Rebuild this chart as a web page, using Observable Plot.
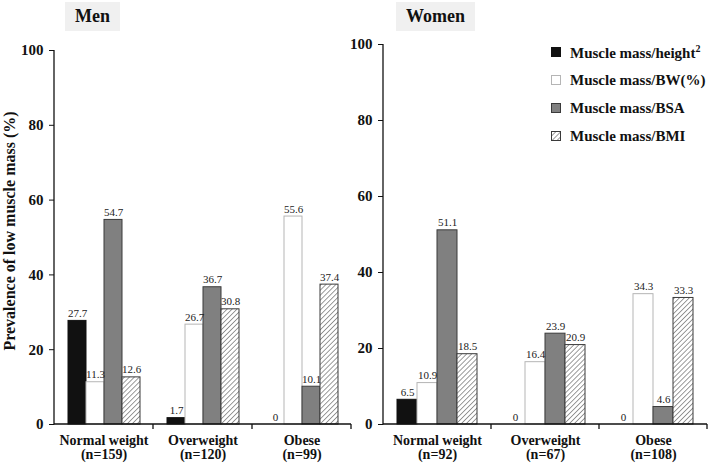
<!DOCTYPE html>
<html><head><meta charset="utf-8">
<script src="https://cdn.jsdelivr.net/npm/d3@7"></script>
<script src="https://cdn.jsdelivr.net/npm/@observablehq/plot@0.6"></script>
<style>
body{margin:0;background:#fff;}
#wrap{position:relative;width:709px;height:464px;font-family:"Liberation Serif","Times New Roman",serif;overflow:hidden;}
.panel{position:absolute;top:0;}
.title{position:absolute;top:2px;height:29px;background:#f0f0f0;font-weight:bold;font-size:18px;line-height:29px;text-align:center;color:#111;}
.legend{position:absolute;left:551px;top:38px;font-weight:bold;font-size:15px;color:#111;}
.legend div{height:28px;display:flex;align-items:center;}
.legend svg{margin-right:9px;}
.ylabel{position:absolute;left:10px;top:231px;transform:translate(-50%,-50%) rotate(-90deg);white-space:nowrap;font-weight:bold;font-size:16px;line-height:20px;color:#111;}
</style>
</head><body>
<svg width="0" height="0" style="position:absolute">
  <defs>
    <pattern id="hatch" patternUnits="userSpaceOnUse" width="3.5" height="3.5" patternTransform="rotate(45)">
      <rect width="3.5" height="3.5" fill="#fff"/>
      <line x1="0" y1="0" x2="0" y2="3.5" stroke="#666" stroke-width="1.3"/>
    </pattern>
  </defs>
</svg>
<div id="wrap"></div>
<script>
const groups = ["Normal weight", "Overweight", "Obese"];
const nMen = [159, 120, 99];
const nWomen = [92, 67, 108];
const measures = ["Muscle mass/height²", "Muscle mass/BW(%)", "Muscle mass/BSA", "Muscle mass/BMI"];
const yTicks = [0, 20, 40, 60, 80, 100];
const yLabel = "Prevalence of low muscle mass (%)";

const menHeight2 = [27.7, 1.7, 0];
const menBW = [11.3, 26.7, 55.6];
const menBSA = [54.7, 36.7, 10.1];
const menBMI = [12.6, 30.8, 37.4];

const womenHeight2 = [6.5, 0, 0];
const womenBW = [10.9, 16.4, 34.3];
const womenBSA = [51.1, 23.9, 4.6];
const womenBMI = [18.5, 20.9, 33.3];

const barStyles = [
  {fill: "#111", stroke: "#111"},
  {fill: "#fff", stroke: "#b5b5b5"},
  {fill: "#808080", stroke: "#3a3a3a"},
  {fill: "url(#hatch)", stroke: "#3a3a3a"}
];

function rowsOf(series) {
  const rows = [];
  groups.forEach((g, i) => series.forEach((s, j) => rows.push({group: g, measure: measures[j], value: s[i]})));
  return rows;
}

const wrap = document.getElementById("wrap");

function panel(rows, ns, o) {
  const chart = Plot.plot({
    width: o.width, height: 464,
    marginLeft: 53, marginRight: o.mr, marginTop: o.mt, marginBottom: 40,
    style: {fontFamily: "Liberation Serif, Times New Roman, serif", fontSize: "11px", background: "transparent", color: "#111"},
    fx: {domain: groups, padding: 0, label: null, axis: null},
    x: {domain: measures, paddingInner: 0, paddingOuter: o.po, axis: null},
    y: {domain: [0, 100], axis: null},
    marks: [
      Plot.axisY({ticks: yTicks, tickSize: 5, tickPadding: 6, label: null, fontSize: 15, fontWeight: "bold", stroke: "#111"}),
      Plot.axisFx({anchor: "bottom", tickSize: 0, tickPadding: 11, fontSize: 14, fontWeight: "bold", lineHeight: 1.0, label: null,
        tickFormat: (d) => `${d}\n(n=${ns[groups.indexOf(d)]})`}),
      ...measures.map((m, j) => Plot.barY(rows.filter(r => r.measure === m), {
        fx: "group", x: "measure", y: "value", fill: barStyles[j].fill, stroke: barStyles[j].stroke, strokeWidth: 1
      })),
      Plot.text(rows, {fx: "group", x: "measure", y: "value", text: d => String(d.value), lineAnchor: "bottom", dy: -4, fill: "#222", fontSize: 11})
    ]
  });
  const fx = chart.scale("fx"), y = chart.scale("y");
  const svg = d3.select(chart);
  const x0 = fx.apply(groups[0]);
  const xEnd = fx.apply(groups[groups.length - 1]) + fx.bandwidth;
  const y0 = y.apply(0), y100 = y.apply(100);
  const g = svg.append("g").attr("stroke", "#111").attr("stroke-width", 1.3);
  g.append("line").attr("x1", x0).attr("x2", x0).attr("y1", y100).attr("y2", y0 + 0.5);
  g.append("line").attr("x1", x0).attr("x2", xEnd).attr("y1", y0).attr("y2", y0);
  groups.forEach(d => {
    const xb = fx.apply(d) + fx.bandwidth;
    g.append("line").attr("x1", xb).attr("x2", xb).attr("y1", y0).attr("y2", y0 + 5);
  });
  chart.classList.add("panel");
  chart.style.left = o.left + "px";
  wrap.appendChild(chart);
}

panel(rowsOf([menHeight2, menBW, menBSA, menBMI]), nMen, {left: 0, width: 360, mr: 9, mt: 50, po: 0.75});
panel(rowsOf([womenHeight2, womenBW, womenBSA, womenBMI]), nWomen, {left: 330, width: 379, mr: 2, mt: 44, po: 0.7});

const yl = document.createElement("div");
yl.className = "ylabel"; yl.textContent = yLabel;
wrap.appendChild(yl);

[["Men", 65, 55], ["Women", 396, 79]].forEach(([t, l, w]) => {
  const d = document.createElement("div");
  d.className = "title"; d.textContent = t;
  d.style.left = l + "px"; d.style.width = w + "px";
  wrap.appendChild(d);
});

const leg = document.createElement("div");
leg.className = "legend";
measures.forEach((m, j) => {
  const row = document.createElement("div");
  const s = barStyles[j];
  row.innerHTML = `<svg width="10" height="10"><rect x="0.5" y="0.5" width="9" height="9" fill="${s.fill}" stroke="${s.stroke}"/></svg>` +
    (m.endsWith("²") ? `<span>${m.slice(0, -1)}<sup style="font-size:10px">2</sup></span>` : `<span>${m}</span>`);
  leg.appendChild(row);
});
wrap.appendChild(leg);
</script>
</body></html>
